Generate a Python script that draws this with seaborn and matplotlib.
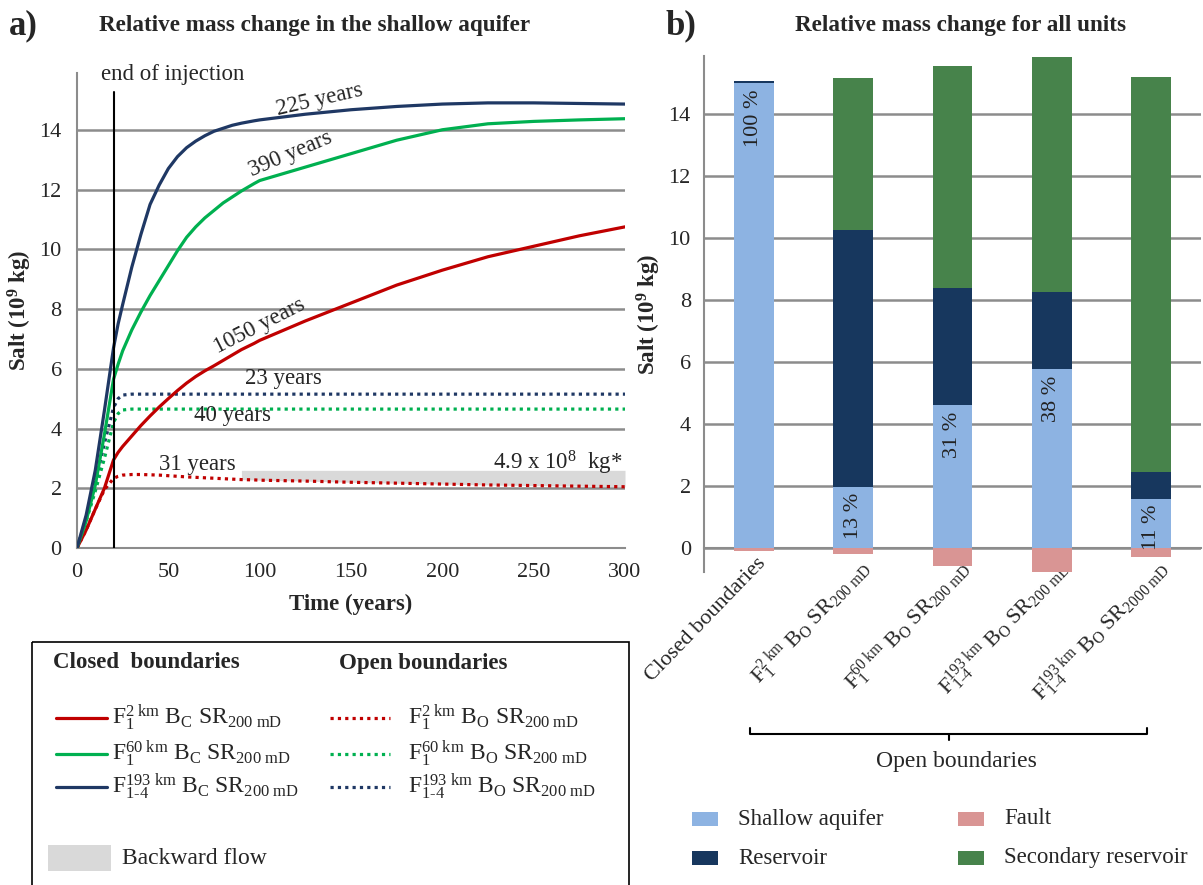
import numpy as np
import pandas as pd
import matplotlib
matplotlib.use("Agg")
import matplotlib.pyplot as plt
from matplotlib.patches import Rectangle
from matplotlib.transforms import ScaledTranslation
import seaborn as sns

# ---- data: left panel (salt in the shallow aquifer, 10^9 kg) ----
time = [0, 5, 10, 15, 20, 22.5, 25, 30, 35, 40, 45, 50, 55, 60, 65, 70, 75, 80, 85, 90,
        97, 100, 125, 150, 175, 200, 225, 250, 275, 300]

# closed boundaries
f1_2km_closed = [0, 0.6, 1.3, 2.0, 2.95, 3.2, 3.4, 3.75, 4.1, 4.42, 4.72, 5.0, 5.27, 5.52,
                 5.74, 5.93, 6.1, 6.28, 6.46, 6.64, 6.85, 6.95, 7.6, 8.2, 8.8, 9.3, 9.75,
                 10.1, 10.45, 10.75]
f1_60km_closed = [0, 0.9, 2.1, 3.8, 5.65, 6.15, 6.6, 7.3, 7.9, 8.45, 8.95, 9.45, 9.95, 10.4,
                  10.75, 11.05, 11.3, 11.55, 11.75, 11.95, 12.2, 12.3, 12.75, 13.2, 13.65,
                  14.0, 14.2, 14.28, 14.33, 14.37]
f14_193km_closed = [0, 1.1, 2.6, 4.6, 6.7, 7.5, 8.15, 9.4, 10.5, 11.5, 12.15, 12.7, 13.1,
                    13.4, 13.62, 13.8, 13.95, 14.05, 14.15, 14.22, 14.3, 14.33, 14.52, 14.67,
                    14.78, 14.86, 14.9, 14.9, 14.88, 14.86]
# open boundaries
f1_2km_open = [0, 0.6, 1.3, 1.95, 2.33, 2.4, 2.44, 2.46, 2.46, 2.45, 2.44, 2.42, 2.4, 2.38,
               2.365, 2.35, 2.335, 2.32, 2.305, 2.29, 2.28, 2.27, 2.24, 2.2, 2.17, 2.14,
               2.11, 2.09, 2.07, 2.05]
f1_60km_open = [0, 0.9, 1.9, 3.0, 4.2, 4.5, 4.62, 4.65, 4.65, 4.65, 4.65, 4.65, 4.65, 4.65,
                4.65, 4.65, 4.65, 4.65, 4.65, 4.65, 4.65, 4.65, 4.65, 4.65, 4.65, 4.65,
                4.65, 4.65, 4.65, 4.65]
f14_193km_open = [0, 1.0, 2.2, 3.5, 4.7, 5.0, 5.12, 5.15, 5.15, 5.15, 5.15, 5.15, 5.15, 5.15,
                  5.15, 5.15, 5.15, 5.15, 5.15, 5.15, 5.15, 5.15, 5.15, 5.15, 5.15, 5.15,
                  5.15, 5.15, 5.15, 5.15]
injection_end = 20
backflow_top = 2.6
backflow_start = 90

# ---- data: right panel (stacked mass per unit, 10^9 kg) ----
scenarios = ["Closed boundaries", "F1 2km", "F1 60km", "F1-4 193km", "F1-4 193km 2000mD"]
scenario_labels = [
    "Closed boundaries",
    r"$\mathrm{F_1^{2\ km}\ B_O\ SR_{200\ mD}}$",
    r"$\mathrm{F_1^{60\ km}\ B_O\ SR_{200\ mD}}$",
    r"$\mathrm{F_{1\text{-}4}^{193\ km}\ B_O\ SR_{200\ mD}}$",
    r"$\mathrm{F_{1\text{-}4}^{193\ km}\ B_O\ SR_{2000\ mD}}$",
]
shallow = [15.0, 1.97, 4.6, 5.77, 1.6]
reservoir = [0.05, 8.28, 3.78, 2.48, 0.85]
secondary = [0.0, 4.9, 7.18, 7.6, 12.75]
fault = [-0.08, -0.2, -0.58, -0.78, -0.29]
percent_labels = ["100 %", "13 %", "31 %", "38 %", "11 %"]

# colours
RED, GREEN, NAVY = "#c00000", "#00b050", "#1f3864"
C_SHALLOW, C_RES, C_FAULT, C_SEC = "#8db3e2", "#17375e", "#d99594", "#47834b"
GRID = "#8c8c8c"

sns.set_style("white")
plt.rcParams["font.family"] = ["Liberation Serif", "DejaVu Serif"]
plt.rcParams["mathtext.fontset"] = "custom"
plt.rcParams["mathtext.rm"] = "Liberation Serif"
plt.rcParams["mathtext.it"] = "Liberation Serif:italic"
plt.rcParams["mathtext.bf"] = "Liberation Serif:bold"

W, H = 1203, 885
fig = plt.figure(figsize=(W / 100, H / 100), dpi=100)

def px_axes(x0, y0, x1, y1):
    return fig.add_axes([x0 / W, 1 - y1 / H, (x1 - x0) / W, (y1 - y0) / H])

# ================= left panel =================
ax1 = px_axes(77, 73, 625, 548)
df = pd.DataFrame({"t": time,
                   "c2": f1_2km_closed, "c60": f1_60km_closed, "c193": f14_193km_closed,
                   "o2": f1_2km_open, "o60": f1_60km_open, "o193": f14_193km_open})

back = df[df["t"] >= backflow_start]
ax1.fill_between(back["t"], back["o2"], backflow_top, color="#d9d9d9", lw=0, zorder=1)

dots = (0, (1, 1.3))
for col, c, ls in [("o2", RED, dots), ("o60", GREEN, dots), ("o193", NAVY, dots),
                   ("c2", RED, "-"), ("c60", GREEN, "-"), ("c193", NAVY, "-")]:
    sns.lineplot(data=df, x="t", y=col, ax=ax1, color=c, lw=2.3, linestyle=ls, zorder=3)

ax1.axvline(injection_end, ymin=0, ymax=15.25 / 15.9, color="black", lw=1.5, zorder=4)

ax1.set_xlim(0, 300)
ax1.set_ylim(0, 15.9)
ax1.set_xticks(range(0, 301, 50))
ax1.set_yticks(range(0, 15, 2))
ax1.yaxis.grid(True, color=GRID, lw=1.8)
ax1.set_axisbelow(True)
for s in ["top", "right"]:
    ax1.spines[s].set_visible(False)
for s in ["left", "bottom"]:
    ax1.spines[s].set_color(GRID)
    ax1.spines[s].set_linewidth(1.5)
ax1.tick_params(axis="both", direction="out", length=6, color=GRID, width=1.5,
                labelsize=16, pad=5)
ax1.set_xlabel("Time (years)", fontsize=16.5, fontweight="bold", labelpad=8)
ax1.set_ylabel(r"Salt (10$^{\mathbf{9}}$ kg)", fontsize=16.5, fontweight="bold", labelpad=4)

ax1.text(13, 15.85, "end of injection", fontsize=16.5, va="center", ha="left", clip_on=False)
ax1.text(133, 15.0, "225 years", fontsize=16.5, rotation=13, ha="center", va="center")
ax1.text(117, 13.17, "390 years", fontsize=16.5, rotation=23, ha="center", va="center")
ax1.text(100, 7.43, "1050 years", fontsize=16.5, rotation=27, ha="center", va="center")
ax1.text(113, 5.68, "23 years", fontsize=16.5, ha="center", va="center")
ax1.text(85, 4.42, "40 years", fontsize=16.5, ha="center", va="center")
ax1.text(66, 2.8, "31 years", fontsize=16.5, ha="center", va="center")
ax1.text(299, 2.85, r"4.9 x 10$^8$  kg*", fontsize=16.5, ha="right", va="center")

# ================= right panel =================
ax2 = px_axes(704, 56, 1201, 572)
bars = pd.DataFrame({"scenario": scenarios, "shallow": shallow, "reservoir": reservoir,
                     "secondary": secondary, "fault": fault})
bars["top_res"] = bars["shallow"] + bars["reservoir"]
bars["top_sec"] = bars["top_res"] + bars["secondary"]

for col, c in [("top_sec", C_SEC), ("top_res", C_RES), ("shallow", C_SHALLOW), ("fault", C_FAULT)]:
    sns.barplot(data=bars, x="scenario", y=col, order=scenarios, color=c, saturation=1,
                width=0.4, linewidth=0, ax=ax2, zorder=3)

for i, (val, lab) in enumerate(zip(shallow, percent_labels)):
    ax2.text(i, val - 0.2, lab, rotation=90, ha="center", va="top", fontsize=16,
             color="#222222", zorder=5)

ax2.set_xlim(-0.5, 4.5)
ax2.set_ylim(-0.77, 15.87)
ax2.set_yticks(range(0, 15, 2))
ax2.yaxis.grid(True, color=GRID, lw=1.8)
ax2.set_axisbelow(True)
for s in ["top", "right"]:
    ax2.spines[s].set_visible(False)
ax2.spines["left"].set_color(GRID)
ax2.spines["left"].set_linewidth(1.5)
ax2.spines["bottom"].set_position(("data", 0))
ax2.spines["bottom"].set_color(GRID)
ax2.spines["bottom"].set_linewidth(1.5)
ax2.set_xticks(range(len(scenarios)))
ax2.set_xticklabels(scenario_labels, rotation=46, ha="right", rotation_mode="anchor")
ax2.set_xticks(np.arange(0.5, len(scenarios), 1), minor=True)
ax2.tick_params(axis="x", which="major", length=0, labelsize=16, pad=4)
ax2.tick_params(axis="x", which="minor", length=8, color=GRID, width=1.5, direction="out")
ax2.tick_params(axis="y", direction="out", length=6, color=GRID, width=1.5, labelsize=16)
for lab in ax2.get_xticklabels():
    lab.set_transform(lab.get_transform() + ScaledTranslation(0.03, 0, fig.dpi_scale_trans))
ax2.set_xlabel("")
ax2.set_ylabel(r"Salt (10$^{\mathbf{9}}$ kg)", fontsize=16.5, fontweight="bold", labelpad=4)

# ================= overlay: titles, legends, bracket =================
ov = fig.add_axes([0, 0, 1, 1], zorder=10)
ov.set_xlim(0, W)
ov.set_ylim(H, 0)
ov.axis("off")
ov.patch.set_visible(False)

ov.text(9, 26, "a)", fontsize=25, fontweight="bold", va="center", ha="left")
ov.text(665, 26, "b)", fontsize=25, fontweight="bold", va="center", ha="left")
ov.text(315, 25, "Relative mass change in the shallow aquifer", fontsize=16.7,
        fontweight="bold", ha="center", va="center")
ov.text(961, 25, "Relative mass change for all units", fontsize=16.7,
        fontweight="bold", ha="center", va="center")

# left legend box
ov.add_patch(Rectangle((32, 642), 597, 300, fill=False, ec="black", lw=1.2))
ov.text(53, 663, "Closed  boundaries", fontsize=16.5, fontweight="bold", va="center")
ov.text(339, 663, "Open boundaries", fontsize=16.5, fontweight="bold", va="center")
leg_rows = [
    (RED, r"$\mathrm{F_1^{2\ km}\ B_C\ SR_{200\ mD}}$", r"$\mathrm{F_1^{2\ km}\ B_O\ SR_{200\ mD}}$"),
    (GREEN, r"$\mathrm{F_1^{60\ km}\ B_C\ SR_{200\ mD}}$", r"$\mathrm{F_1^{60\ km}\ B_O\ SR_{200\ mD}}$"),
    (NAVY, r"$\mathrm{F_{1\text{-}4}^{193\ km}\ B_C\ SR_{200\ mD}}$",
     r"$\mathrm{F_{1\text{-}4}^{193\ km}\ B_O\ SR_{200\ mD}}$"),
]
for (c, lab_c, lab_o), y in zip(leg_rows, [718, 754, 787]):
    ov.plot([56, 107], [y, y], color=c, lw=2.3)
    ov.text(112, y, lab_c, fontsize=17, va="center")
    ov.plot([330, 390], [y, y], color=c, lw=2.3, linestyle=dots)
    ov.text(408, y, lab_o, fontsize=17, va="center")
ov.add_patch(Rectangle((48, 845), 63, 26, color="#d9d9d9", lw=0))
ov.text(122, 858, "Backward flow", fontsize=17, va="center")

# open boundaries bracket
ov.plot([750, 750, 1147, 1147], [728, 734, 734, 728], color="black", lw=1.5)
ov.plot([949, 949], [734, 740], color="black", lw=1.5)
ov.text(956, 762, "Open boundaries", fontsize=17, ha="center", va="center")

# right legend
for (c, lab), (x, y) in zip(
        [(C_SHALLOW, "Shallow aquifer"), (C_FAULT, "Fault"), (C_RES, "Reservoir"),
         (C_SEC, "Secondary reservoir")],
        [(692, 819), (958, 819), (692, 858), (958, 858)]):
    ov.add_patch(Rectangle((x, y - 7), 26, 14, color=c, lw=0))
    ov.text(x + 46, y, lab, fontsize=16.5, va="center")

fig.savefig("out.png", dpi=100)
